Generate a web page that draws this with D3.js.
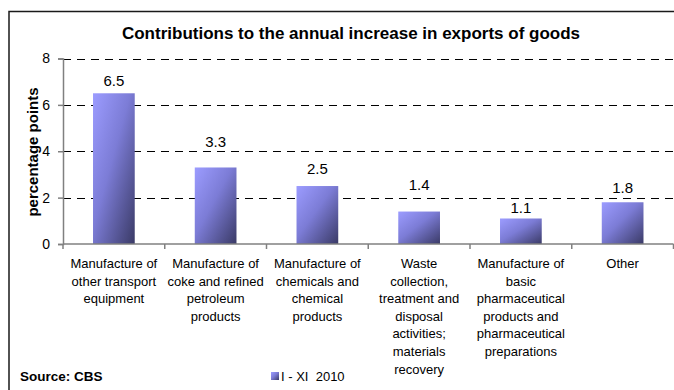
<!DOCTYPE html>
<html>
<head>
<meta charset="utf-8">
<script src="https://cdn.jsdelivr.net/npm/d3@7"></script>
<style>
  html, body { margin: 0; padding: 0; background: #fff; }
  svg { display: block; font-family: "Liberation Sans", Arial, sans-serif; }
</style>
</head>
<body>
<svg id="chart" width="674" height="390"></svg>
<script>
// Contributions by activity (percentage points), period I - XI 2010
const categories = [
  "Manufacture of\nother transport\nequipment",
  "Manufacture of\ncoke and refined\npetroleum\nproducts",
  "Manufacture of\nchemicals and\nchemical\nproducts",
  "Waste\ncollection,\ntreatment and\ndisposal\nactivities;\nmaterials\nrecovery",
  "Manufacture of\nbasic\npharmaceutical\nproducts and\npharmaceutical\npreparations",
  "Other"
];
const values = [6.5, 3.3, 2.5, 1.4, 1.1, 1.8];
const yTicks = [0, 2, 4, 6, 8];
const seriesName = "I - XI  2010";
const titleText = "Contributions to the annual increase in exports of goods";
const yAxisTitle = "percentage points";
const sourceText = "Source: CBS";

// Vertical lift of each value label above its bar (px)
const labelLift = [13, 26, 17, 26.5, 10.5, 15];

const svg = d3.select("#chart");
const plot = { left: 63, right: 673.5, top: 58.5, bottom: 244 };

// Outer frame
svg.append("rect")
  .attr("x", 9).attr("y", 11.5)
  .attr("width", 700).attr("height", 400)
  .attr("fill", "none").attr("stroke", "#1a1a1a").attr("stroke-width", 1.5);

// Bar gradient: light violet top-left to dark navy bottom-right
const defs = svg.append("defs");
const grad = defs.append("linearGradient")
  .attr("id", "barGrad")
  .attr("x1", "0%").attr("y1", "0%").attr("x2", "100%").attr("y2", "100%");
grad.append("stop").attr("offset", "0%").attr("stop-color", "#9c9cff");
grad.append("stop").attr("offset", "45%").attr("stop-color", "#7c7cd6");
grad.append("stop").attr("offset", "100%").attr("stop-color", "#3a3a66");

const x = d3.scaleBand()
  .domain(d3.range(categories.length))
  .range([plot.left, plot.right])
  .paddingInner(0.59)
  .paddingOuter(0.295);

const y = d3.scaleLinear()
  .domain([0, 8])
  .range([plot.bottom, plot.top]);

const step = (plot.right - plot.left) / categories.length;

// Dashed gridlines
svg.append("g")
  .selectAll("line")
  .data(yTicks.filter(d => d > 0))
  .join("line")
  .attr("x1", plot.left).attr("x2", plot.right)
  .attr("y1", d => Math.round(y(d)) + 0.5).attr("y2", d => Math.round(y(d)) + 0.5)
  .attr("stroke", "#000").attr("stroke-width", 1)
  .attr("stroke-dasharray", "8,6");

// Y axis
const yAxis = svg.append("g")
  .attr("transform", `translate(${plot.left},0)`)
  .call(d3.axisLeft(y).tickValues(yTicks).tickSize(5).tickPadding(8).tickFormat(d3.format("d")));
yAxis.select(".domain").attr("stroke", "#808080").attr("stroke-width", 1.5);
yAxis.selectAll(".tick line").attr("stroke", "#808080").attr("stroke-width", 1.5);
yAxis.selectAll(".tick text")
  .attr("font-size", 14).attr("fill", "#000")
  .attr("font-family", "Liberation Sans, Arial, sans-serif");

// Bars
svg.append("g")
  .selectAll("rect")
  .data(values)
  .join("rect")
  .attr("x", (d, i) => x(i))
  .attr("y", d => y(d))
  .attr("width", x.bandwidth())
  .attr("height", d => y(0) - y(d))
  .attr("fill", "url(#barGrad)");

// X axis baseline with category separator ticks
const xb = svg.append("g");
xb.append("line")
  .attr("x1", plot.left).attr("x2", plot.right)
  .attr("y1", y(0)).attr("y2", y(0))
  .attr("stroke", "#808080").attr("stroke-width", 1.5);
xb.selectAll("line.sep")
  .data(d3.range(categories.length + 1))
  .join("line")
  .attr("class", "sep")
  .attr("x1", i => plot.left + i * step).attr("x2", i => plot.left + i * step)
  .attr("y1", y(0)).attr("y2", y(0) + 5)
  .attr("stroke", "#808080").attr("stroke-width", 1.5);

// Value labels
svg.append("g")
  .selectAll("text")
  .data(values)
  .join("text")
  .attr("x", (d, i) => x(i) + x.bandwidth() / 2)
  .attr("y", (d, i) => y(d) - labelLift[i])
  .attr("dy", "0.35em")
  .attr("text-anchor", "middle")
  .attr("font-size", 15)
  .text(d => d3.format(".1f")(d));

// Category labels
const cat = svg.append("g")
  .selectAll("text")
  .data(categories)
  .join("text")
  .attr("text-anchor", "middle")
  .attr("font-size", 13)
  .attr("x", (d, i) => plot.left + (i + 0.5) * step);
cat.each(function(d) {
  const t = d3.select(this);
  d.split("\n").forEach((line, k) => {
    t.append("tspan")
      .attr("x", t.attr("x"))
      .attr("y", 268 + k * 17.6)
      .text(line);
  });
});

// Title
svg.append("text")
  .attr("x", 351).attr("y", 39)
  .attr("text-anchor", "middle")
  .attr("font-size", 17).attr("font-weight", "bold")
  .text(titleText);

// Y axis title
svg.append("text")
  .attr("transform", "translate(38,152) rotate(-90)")
  .attr("text-anchor", "middle")
  .attr("font-size", 15).attr("font-weight", "bold")
  .text(yAxisTitle);

// Source note
svg.append("text")
  .attr("x", 20).attr("y", 381)
  .attr("font-size", 13.5).attr("font-weight", "bold")
  .text(sourceText);

// Legend
svg.append("rect")
  .attr("x", 271).attr("y", 372)
  .attr("width", 8).attr("height", 8)
  .attr("fill", "url(#barGrad)");
svg.append("text")
  .attr("x", 281).attr("y", 381)
  .attr("font-size", 13)
  .style("white-space", "pre")
  .text(seriesName);
</script>
</body>
</html>
